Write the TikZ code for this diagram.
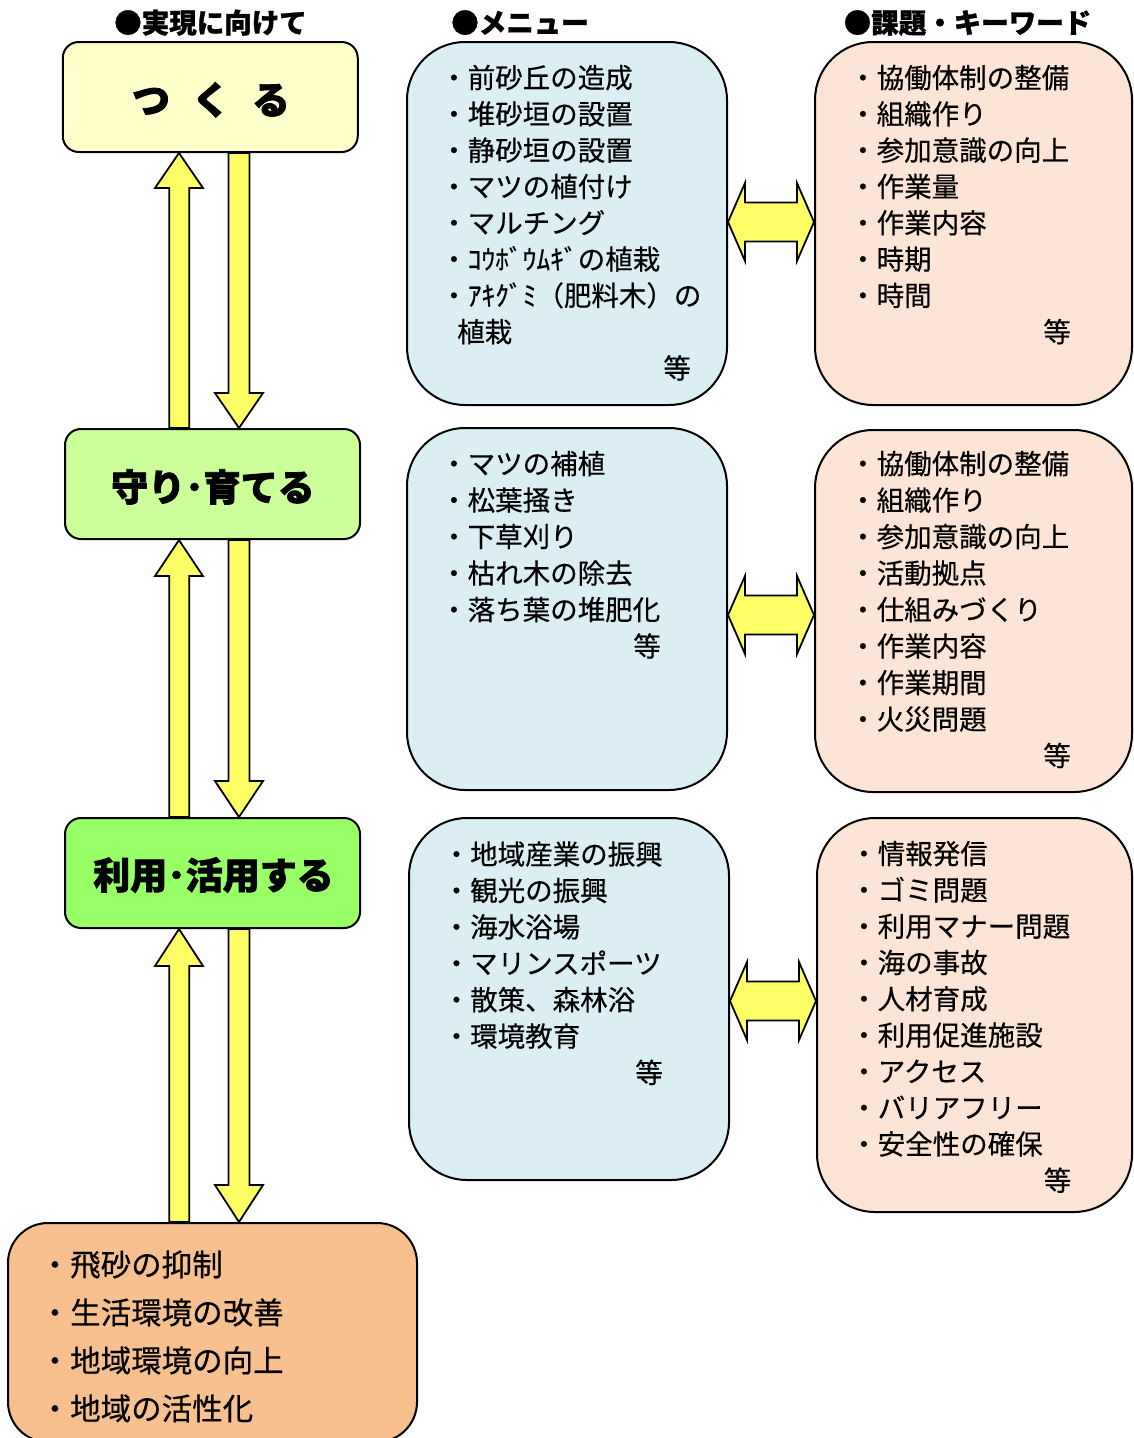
\documentclass[tikz,border=0pt]{standalone}
\usepackage{fontspec}
\newfontfamily\jp{Noto Sans CJK JP}
\usetikzlibrary{calc}
\definecolor{arrowy}{HTML}{FFFF66}
\definecolor{cone}{HTML}{FFFFCC}
\definecolor{ctwo}{HTML}{CCFF99}
\definecolor{cthree}{HTML}{99FF66}
\definecolor{cbot}{HTML}{F8BF8F}
\definecolor{cmenu}{HTML}{DAEEF3}
\definecolor{ckey}{HTML}{FCE5D6}
\newcommand\vpair[3]{%
  \coordinate (ta) at (0,0 |- #1.south);
  \coordinate (tb) at (0,0 |- #2.north);
  \draw[blockarrow] ($(ta)+(179,0)$) -- ($(ta)+(203,#3)$) -- ($(ta)+(189.3,#3)$) -- ($(tb)+(189.3,0)$) -- ($(tb)+(169.3,0)$) -- ($(ta)+(169.3,#3)$) -- ($(ta)+(155,#3)$) -- cycle;
  \draw[blockarrow] ($(ta)+(228.5,0)$) -- ($(ta)+(249.5,0)$) -- ($(tb)+(249.5,-#3)$) -- ($(tb)+(263,-#3)$) -- ($(tb)+(239,0)$) -- ($(tb)+(215,-#3)$) -- ($(tb)+(228.5,-#3)$) -- cycle;
}
\newcommand\hpair[3]{%
  \coordinate (ha) at (#1.east |- 0,#3);
  \coordinate (hb) at (#2.west |- 0,#3);
  \draw[blockarrow] (ha) -- ($(ha)+(17,-39)$) -- ($(ha)+(17,-19.5)$) -- ($(hb)+(-17,-19.5)$) -- ($(hb)+(-17,-39)$) -- (hb) -- ($(hb)+(-17,39)$) -- ($(hb)+(-17,19.5)$) -- ($(ha)+(17,19.5)$) -- ($(ha)+(17,39)$) -- cycle;
}
\begin{document}
\begin{tikzpicture}[x=1pt,y=-1pt,
  box/.style={draw=black, line width=2pt, inner sep=0pt},
  titlebox/.style={box, rounded corners=16pt, minimum width=295pt, minimum height=110pt},
  bigbox/.style={box, rounded corners=58pt},
  blockarrow/.style={draw=black, line width=1.8pt, fill=arrowy, line join=miter},
  head/.style={font=\jp\bfseries\addfontfeature{FakeBold=1}\fontsize{27.5}{30}\selectfont, anchor=base, inner sep=0pt},
  titletext/.style={font=\jp\bfseries\addfontfeature{FakeBold=2}\fontsize{37}{40}\selectfont, anchor=base, inner sep=0pt},
  item/.style={font=\jp\addfontfeature{FakeBold=0.4}\fontsize{27.5}{30}\selectfont, anchor=base west, inner sep=0pt},
  etc/.style={font=\jp\addfontfeature{FakeBold=0.4}\fontsize{27.5}{30}\selectfont, anchor=base, inner sep=0pt},
  bitem/.style={font=\jp\addfontfeature{FakeBold=0.4}\fontsize{30.5}{33}\selectfont, anchor=base west, inner sep=0pt}]
\useasboundingbox (0,0) rectangle (1134,1438);
\clip (0,0) rectangle (1134,1438);

% headers
\node[head] (h1) at (210.5,33) {●実現に向けて};
\node[head] (h2) at (520,33) {●メニュー};
\node[head] (h3) at (967.5,33) {●課題・キーワード};

% left column boxes
\node[titlebox, fill=cone] (t1) at (210.25,97) {};
\node[titlebox, fill=ctwo] (t2) at (212.5,484) {};
\node[titlebox, fill=cthree] (t3) at (212.5,873) {};
\node[box, rounded corners=40pt, fill=cbot, minimum width=409pt, minimum height=219pt] (bt) at (212.5,1332.5) {};

\node[titletext, font=\jp\bfseries\addfontfeature{FakeBold=2}\fontsize{38}{40}\selectfont] (t1l) at (211,114) {つ\hspace{22pt}く\hspace{22pt}る};
\node[titletext] (t2l) at (213,501) {守り･育てる};
\node[titletext] (t3l) at (213.5,889) {利用･活用する};

% menu and keyword boxes
\node[bigbox, fill=cmenu, minimum width=320pt, minimum height=363pt] (m1) at (567,223.5) {};
\node[bigbox, fill=cmenu, minimum width=320pt, minimum height=362pt] (m2) at (567,609) {};
\node[bigbox, fill=cmenu, minimum width=320pt, minimum height=362pt] (m3) at (569,999) {};
\node[bigbox, fill=ckey, minimum width=317pt, minimum height=363pt] (k1) at (973.5,223.5) {};
\node[bigbox, fill=ckey, minimum width=317pt, minimum height=362pt] (k2) at (973.5,611) {};
\node[bigbox, fill=ckey, minimum width=315pt, minimum height=394pt] (k3) at (974.5,1015) {};

% vertical arrows
\vpair{t1}{t2}{35}
\vpair{t2}{t3}{36}
\vpair{t3}{bt}{37}

% horizontal double arrows
\hpair{m1}{k1}{222}
\hpair{m2}{k2}{615}
\hpair{m3}{k3}{1001}

% menu 1
\foreach \s [count=\i from 0] in {・前砂丘の造成,・堆砂垣の設置,・静砂垣の設置,・マツの植付け,・マルチング,・ｺｳﾎﾞｳﾑｷﾞの植栽,・ｱｷｸﾞﾐ（肥料木）の}
  \node[item] (ma\i) at (440,{88+36.3*\i}) {\s};
\node[item] (ma7) at (457,{88+36.3*7}) {植栽};
\node[etc] (ma8) at (677,{88+36.3*8}) {等};

% keyword 1
\foreach \s [count=\i from 0] in {・協働体制の整備,・組織作り,・参加意識の向上,・作業量,・作業内容,・時期,・時間}
  \node[item] (ka\i) at (849,{88+36.3*\i}) {\s};
\node[etc] (ka7) at (1057,{88+36.3*7}) {等};

% menu 2
\foreach \s [count=\i from 0] in {・マツの補植,・松葉掻き,・下草刈り,・枯れ木の除去,・落ち葉の堆肥化}
  \node[item] (mb\i) at (440,{474+36.5*\i}) {\s};
\node[etc] (mb5) at (647,{474+36.5*5}) {等};

% keyword 2
\foreach \s [count=\i from 0] in {・協働体制の整備,・組織作り,・参加意識の向上,・活動拠点,・仕組みづくり,・作業内容,・作業期間,・火災問題}
  \node[item] (kb\i) at (849,{474+36.5*\i}) {\s};
\node[etc] (kb8) at (1057,{474+36.5*8}) {等};

% menu 3
\foreach \s [count=\i from 0] in {・地域産業の振興,・観光の振興,・海水浴場,・マリンスポーツ,・散策、森林浴,・環境教育}
  \node[item] (mc\i) at (442.5,{864.5+36.4*\i}) {\s};
\node[etc] (mc6) at (649,{864.5+36.4*6}) {等};

% keyword 3
\foreach \s [count=\i from 0] in {・情報発信,・ゴミ問題,・利用マナー問題,・海の事故,・人材育成,・利用促進施設,・アクセス,・バリアフリー,・安全性の確保}
  \node[item] (kc\i) at (850,{864+36.3*\i}) {\s};
\node[etc] (kc9) at (1057.5,{864+36.3*9}) {等};

% bottom box
\foreach \s [count=\i from 0] in {・飛砂の抑制,・生活環境の改善,・地域環境の向上,・地域の活性化}
  \node[bitem] (bb\i) at (39.5,{1276+48*\i}) {\s};
\end{tikzpicture}
\end{document}
